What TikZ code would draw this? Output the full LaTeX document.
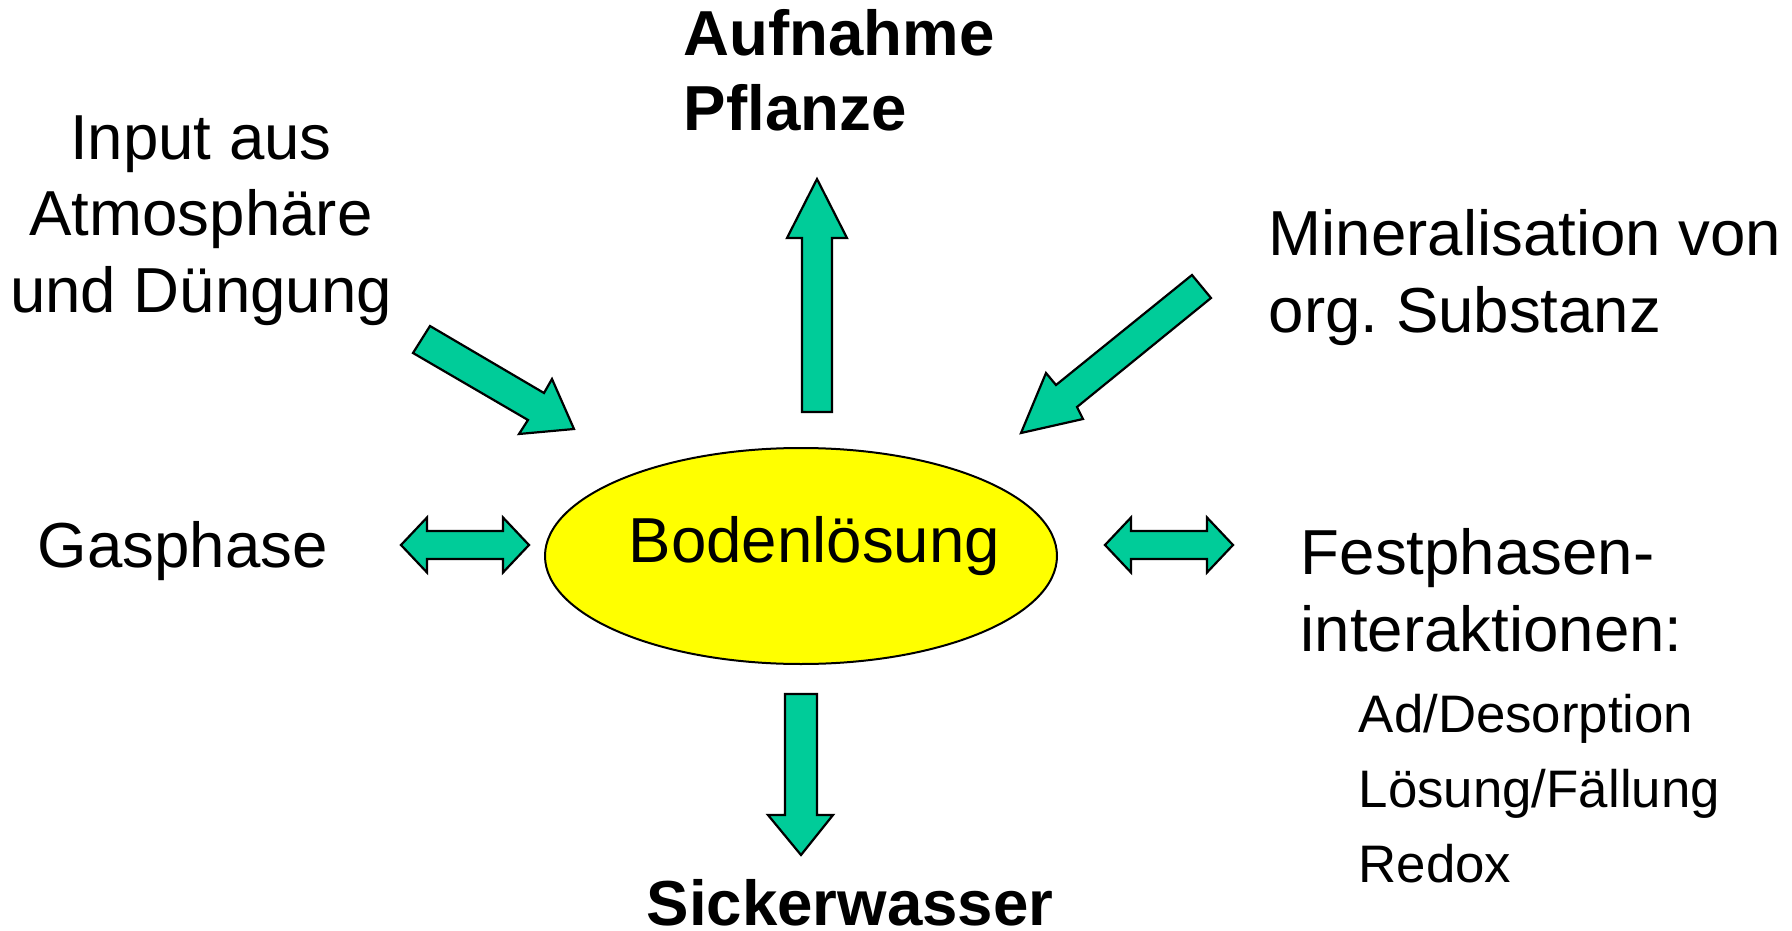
\documentclass[tikz,border=0pt]{standalone}
\usepackage{fontspec}
\setmainfont{Liberation Sans}
\usetikzlibrary{shapes.geometric}
\definecolor{flow}{RGB}{0,204,153}
\definecolor{sol}{RGB}{255,255,0}
\frenchspacing
\begin{document}
\begin{tikzpicture}[x=0.25pt,y=-0.25pt,
  blockarrow/.style={fill=flow,draw=black,line width=0.55pt,line join=miter},
  maintext/.style={font=\fontsize{15.9pt}{19.1pt}\selectfont, inner sep=0pt},
  boldtext/.style={font=\fontsize{15.9pt}{18.75pt}\selectfont\bfseries, inner sep=0pt},
  subtext/.style={font=\fontsize{13.2pt}{18.75pt}\selectfont, inner sep=0pt}]
\useasboundingbox (0,0) rectangle (1792,931);

% central ellipse
\node[ellipse, fill=sol, draw=black, line width=0.5pt, minimum width=128pt,
      minimum height=54pt, inner sep=0pt] (boden) at (801,556) {};
\node[maintext, anchor=base west] (bodentext) at (628,562) {Bodenlösung};

% texts (base anchor = baseline of last line)
\node[maintext, align=center, anchor=base] (input) at (201,312)
  {Input aus\\Atmosphäre\\und Düngung};
\node[boldtext, align=left, anchor=base west] (aufnahme) at (683,130)
  {Aufnahme\\Pflanze};
\node[maintext, align=left, anchor=base west] (mineral) at (1268,332)
  {Mineralisation von\\org. Substanz};
\node[maintext, anchor=base west] (gas) at (37,567) {Gasphase};
\node[maintext, align=left, anchor=base west] (fest) at (1300,651)
  {Festphasen-\\interaktionen:};
\node[subtext, align=left, anchor=base west] (festsub) at (1358,882)
  {Ad/Desorption\\Lösung/Fällung\\Redox};
\node[boldtext, anchor=base west] (sicker) at (646,925) {Sickerwasser};

% block arrows
\coordinate (upTip) at (817,179);
\coordinate (downTip) at (801,855);
\draw[blockarrow] (802,412) -- (802,238) -- (787,238) -- (upTip) -- (847,238)
  -- (832,238) -- (832,412) -- cycle;
\draw[blockarrow] (785,694) -- (785,815) -- (768,815) -- (downTip) -- (833,815)
  -- (817,815) -- (817,694) -- cycle;
\draw[blockarrow] (401,545) -- (427,517.5) -- (427,531) -- (503,531) -- (503,517.5)
  -- (529,545) -- (503,572.5) -- (503,559) -- (427,559) -- (427,572.5) -- cycle;
\draw[blockarrow] (1105,545) -- (1131,517.5) -- (1131,531) -- (1207,531) -- (1207,517.5)
  -- (1233,545) -- (1207,572.5) -- (1207,559) -- (1131,559) -- (1131,572.5) -- cycle;
\draw[blockarrow] (430,326) -- (544,393) -- (552,379) -- (574,429) -- (519,434)
  -- (528,420) -- (413,353) -- cycle;
\draw[blockarrow] (1192,275) -- (1211,298) -- (1077,407) -- (1083,419) -- (1021,433)
  -- (1046,373) -- (1056,385) -- cycle;
\end{tikzpicture}
\end{document}
